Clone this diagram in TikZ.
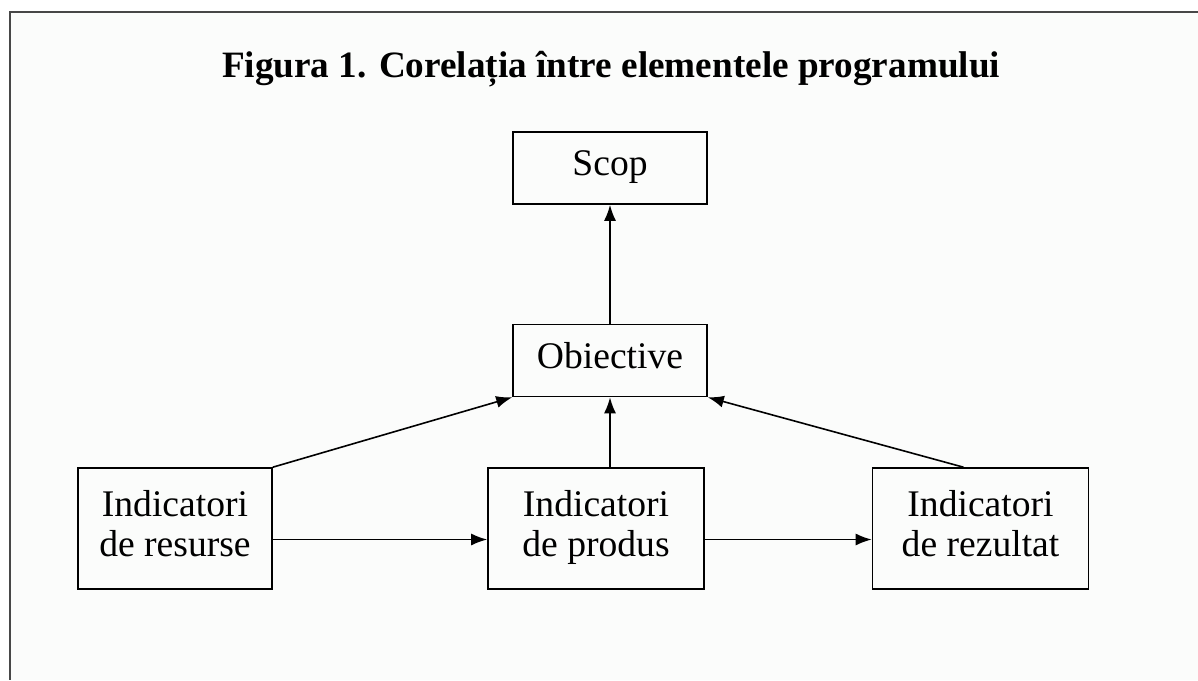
\documentclass[tikz,border=0pt]{standalone}
\usepackage{fontspec}
\setmainfont{Liberation Serif}
\usetikzlibrary{arrows.meta}
\definecolor{framegray}{rgb}{0.28, 0.28, 0.28}
\definecolor{paper}{rgb}{0.985, 0.99, 0.985}
\newcommand{\boxstrut}{\rule[-5pt]{0pt}{14.5pt}}
\tikzset{
  box/.style={draw, line width=0.8pt, minimum width=97pt, minimum height=36pt,
    align=center, inner sep=0pt, font=\fontsize{18.8}{20}\selectfont},
  link/.style={-{Latex[length=8pt,width=6pt]}, line width=0.8pt}
}

\begin{document}
\begin{tikzpicture}[x=0.5pt, y=-0.5pt]
      \useasboundingbox (0, 0) rectangle (1198, 680);
      \fill [paper] (10, 12) rectangle (1198, 680);
      \draw [framegray, line width=1pt] (1198, 12) -- (10, 12) -- (10, 680);
      \node [anchor=base, font=\bfseries\fontsize{18.6}{20}\selectfont] (title) at (611, 77)
        {Figura 1. Corelația între elementele programului};
      \node [box] (scop) at (610, 168) {\boxstrut Scop};
      \node [box] (obiective) at (610, 360.5) {\boxstrut Obiective};
      \node [box, minimum height=60.5pt] (resurse) at (175, 528.5)
        {\boxstrut Indicatori\\\boxstrut de resurse};
      \node [box, minimum width=108pt, minimum height=60.5pt] (produs) at (596, 528.5)
        {\boxstrut Indicatori\\\boxstrut de produs};
      \node [box, minimum width=108pt, minimum height=60.5pt] (rezultat) at (980.5, 528.5)
        {\boxstrut Indicatori\\\boxstrut de rezultat};
      \draw [link] (obiective) -- (scop);
      \draw [link] (resurse.north east) -- (obiective.south west);
      \draw [link] (obiective.south |- produs.north) -- (obiective.south);
      \draw [link] ([xshift=-8.5pt]rezultat.north) -- (obiective.south east);
      \draw [link] ([yshift=-5.5pt]resurse.east) -- ([yshift=-5.5pt]produs.west);
      \draw [link] ([yshift=-5.5pt]produs.east) -- ([yshift=-5.5pt]rezultat.west);
    \end{tikzpicture}
\end{document}
